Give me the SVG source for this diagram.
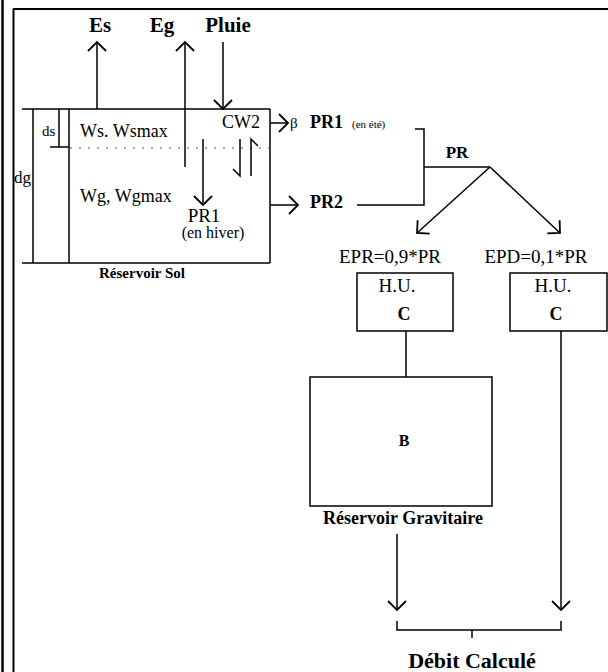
<svg xmlns="http://www.w3.org/2000/svg" width="608" height="672" viewBox="0 0 608 672">
<style>
.l{stroke:#000;stroke-width:1.5;fill:none}
.t{font-family:"Liberation Serif","Times New Roman",serif;fill:#000}
.b{font-weight:bold}
</style>
<defs>
<marker id="ah" viewBox="0 0 20 20" refX="10" refY="10" markerWidth="20" markerHeight="20" markerUnits="userSpaceOnUse" orient="auto">
<path d="M1,1 L10,10 L1,19" fill="none" stroke="#000" stroke-width="1.8"/>
</marker>
</defs>
<rect width="608" height="672" fill="#fff"/>
<g id="frame">
<line x1="2.5" y1="0" x2="2.5" y2="672" stroke="#000" stroke-width="2.5"/>
<line x1="13.5" y1="9" x2="13.5" y2="672" stroke="#000" stroke-width="2"/>
<line x1="13" y1="9" x2="608" y2="9" stroke="#000" stroke-width="2"/>
</g>
<g id="reservoir-sol">
<line class="l" x1="22" y1="109" x2="270" y2="109"/>
<line class="l" x1="22" y1="263" x2="270" y2="263"/>
<line class="l" x1="270" y1="109" x2="270" y2="263"/>
<line class="l" x1="69" y1="109" x2="69" y2="263"/>
<line class="l" x1="33" y1="109" x2="33" y2="263"/>
<line class="l" x1="59" y1="109" x2="59" y2="147"/>
<line class="l" x1="50" y1="147" x2="69" y2="147"/>
<line x1="70" y1="148" x2="270" y2="148" stroke="#555" stroke-width="1" stroke-dasharray="2,7"/>
<text class="t" x="42" y="136" font-size="15">ds</text>
<text class="t" x="14" y="183" font-size="17">dg</text>
<text class="t" x="80" y="137" font-size="18">Ws. Wsmax</text>
<text class="t" x="80" y="202" font-size="18">Wg, Wgmax</text>
<text class="t" x="222" y="128" font-size="18">CW2</text>
<text class="t" x="204" y="222" font-size="19">
<tspan text-anchor="middle">PR1</tspan></text>
<text class="t" x="213" y="238" font-size="16" text-anchor="middle">(en hiver)</text>
<text class="t b" x="142" y="278" font-size="15" text-anchor="middle">Réservoir Sol</text>
</g>
<g id="inputs">
<text class="t b" x="100" y="32" font-size="21" text-anchor="middle">Es</text>
<text class="t b" x="162" y="32" font-size="21" text-anchor="middle">Eg</text>
<text class="t b" x="228" y="32" font-size="21" text-anchor="middle">Pluie</text>
</g>
<g id="outputs-top">
<text class="t" x="290" y="128" font-size="15">β</text>
<text class="t b" x="310" y="128" font-size="18">PR1</text>
<text class="t" x="352" y="128" font-size="11">(en été)</text>
<text class="t b" x="310" y="208" font-size="18">PR2</text>
<text class="t b" x="457" y="158" font-size="17" text-anchor="middle">PR</text>
<text class="t" x="390" y="263" font-size="19" text-anchor="middle">EPR=0,9*PR</text>
<text class="t" x="536" y="263" font-size="19" text-anchor="middle">EPD=0,1*PR</text>
</g>
<g id="hu-left">
<rect class="l" x="357" y="273" width="96" height="58"/>
<text class="t" x="397" y="292" font-size="19" text-anchor="middle">H.U.</text>
<text class="t b" x="404" y="320" font-size="18" text-anchor="middle">C</text>
</g>
<g id="hu-right">
<rect class="l" x="510" y="273" width="97" height="58"/>
<text class="t" x="553" y="292" font-size="19" text-anchor="middle">H.U.</text>
<text class="t b" x="556" y="320" font-size="18" text-anchor="middle">C</text>
</g>
<g id="reservoir-gravitaire">
<rect class="l" x="310" y="377" width="182" height="129"/>
<text class="t b" x="404" y="446" font-size="16" text-anchor="middle">B</text>
<text class="t b" x="403" y="524" font-size="18" text-anchor="middle">Réservoir Gravitaire</text>
</g>
<g id="debit">
<text class="t b" x="472" y="668" font-size="22" text-anchor="middle">Débit Calculé</text>
</g>
<g id="connectors">
<line class="l" x1="97" y1="109" x2="97" y2="42" marker-end="url(#ah)"/>
<line class="l" x1="185" y1="167" x2="185" y2="42" marker-end="url(#ah)"/>
<line class="l" x1="223" y1="42" x2="223" y2="109" marker-end="url(#ah)"/>
<line class="l" x1="203" y1="139" x2="203" y2="205" marker-end="url(#ah)"/>
<polyline class="l" points="240,139 240,176 233,169"/>
<polyline class="l" points="251,176 251,139 258,146"/>
<line class="l" x1="270" y1="123" x2="288" y2="123" marker-end="url(#ah)"/>
<line class="l" x1="270" y1="205" x2="298" y2="205" marker-end="url(#ah)"/>
<polyline class="l" points="415,129 424,129 424,205 357,205"/>
<line class="l" x1="424" y1="167" x2="490" y2="167"/>
<line class="l" x1="490" y1="167" x2="417" y2="233" marker-end="url(#ah)"/>
<line class="l" x1="490" y1="167" x2="560" y2="233" marker-end="url(#ah)"/>
<line class="l" x1="406" y1="331" x2="406" y2="377"/>
<line class="l" x1="561" y1="331" x2="561" y2="610" marker-end="url(#ah)"/>
<line class="l" x1="397" y1="534" x2="397" y2="610" marker-end="url(#ah)"/>
<polyline class="l" points="397,621 397,630 561,630 561,621"/>
<line class="l" x1="472" y1="630" x2="472" y2="638"/>
</g>
</svg>
